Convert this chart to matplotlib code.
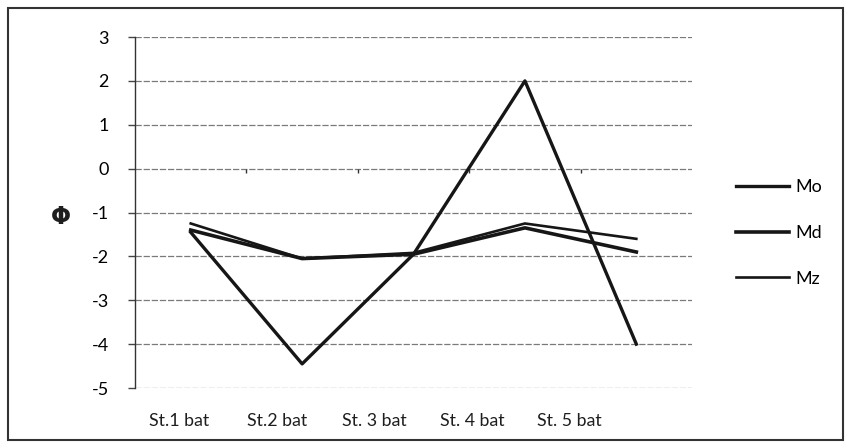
import numpy as np
import matplotlib
matplotlib.use("Agg")
import matplotlib.pyplot as plt
from matplotlib.patches import Rectangle

# =========================
# DATOS
# =========================
stations = ["St.1 bat", "St.2 bat", "St. 3 bat", "St. 4 bat", "St. 5 bat"]
mo = [-1.45, -4.45, -1.95, 2.0, -4.0]
md = [-1.4, -2.05, -1.95, -1.35, -1.9]
mz = [-1.25, -2.05, -1.92, -1.25, -1.6]
yticks = [3, 2, 1, 0, -1, -2, -3, -4, -5]

plt.rcParams["font.family"] = ["Lato", "DejaVu Sans"]

fig = plt.figure(figsize=(8.53, 4.48), dpi=100)
ax = fig.add_axes([0.1583, 0.1339, 0.653, 0.7835])

x = np.arange(len(stations))
ink = "#161616"

ax.plot(x, mo, color=ink, lw=2.4, label="Mo", zorder=4)
ax.plot(x, md, color=ink, lw=2.6, label="Md", zorder=3)
ax.plot(x, mz, color=ink, lw=1.9, label="Mz", zorder=3)

# =========================
# EJES
# =========================
ax.set_xlim(-0.5, len(stations) - 0.5)
ax.set_ylim(-5, 3)
ax.set_yticks(yticks)
ax.set_yticklabels([str(v) for v in yticks], fontsize=13)
ax.tick_params(axis="y", length=5, width=1, color="#444444", pad=14)
ax.yaxis.grid(True, color="#7a7a7a", lw=0.9, linestyle=(0, (5, 1.5)))
ax.set_axisbelow(True)

for s in ["top", "right", "bottom"]:
    ax.spines[s].set_visible(False)
ax.spines["left"].set_color("#333333")
ax.spines["left"].set_linewidth(1)

# ticks de categoria sobre la linea del cero
ax.set_xticks([])
ax.vlines(x[1:] - 0.5, -0.1, 0, color="#333333", lw=1)

# etiquetas de categoria (desplazadas como en el original)
label_pos = x * 0.875 - 0.1
for p, name in zip(label_pos, stations):
    ax.text(p, -5.75, name, ha="center", va="center", fontsize=12.8, color="#1e1e1e")

ax.set_ylabel("Φ", rotation=0, fontsize=17, color="#1e1e1e",
              family=["DejaVu Sans"], fontweight="bold", va="center")
ax.yaxis.set_label_coords(-0.133, 0.487)

# =========================
# LEYENDA
# =========================
fig.legend(loc="center left", bbox_to_anchor=(0.863, 0.48), frameon=False,
           fontsize=13, handlelength=2.9, handletextpad=0.4,
           labelspacing=1.65, borderpad=0, borderaxespad=0)

# marco exterior
fig.patches.append(Rectangle((8 / 853, 8 / 448), 835 / 853, 432 / 448,
                             transform=fig.transFigure, fill=False,
                             edgecolor="#333333", lw=1.5))

fig.savefig("out.png", dpi=100)
